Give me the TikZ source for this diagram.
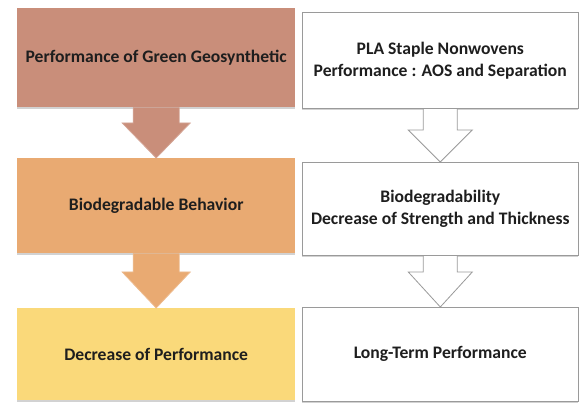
\documentclass[tikz,border=0pt]{standalone}
\usepackage{fontspec}
\setmainfont{Carlito}
\usetikzlibrary{calc,shadows}
\definecolor{cbrown}{HTML}{C98E7A}
\definecolor{corange}{HTML}{E9AA72}
\definecolor{cyellow}{HTML}{FAD97A}
\definecolor{ctext}{HTML}{1E1E1E}
\definecolor{cborder}{HTML}{9A9A9A}
\tikzset{
  x=1pt,y=1pt,
  box/.style={anchor=north west, inner sep=0pt, align=center, text=ctext,
    font=\bfseries\fontsize{17.6}{22}\selectfont,
    drop shadow={shadow xshift=0pt, shadow yshift=-2pt, opacity=0.35, fill=gray}},
  lbox/.style={box, minimum width=278, draw=none},
  rbox/.style={box, minimum width=276, fill=white, draw=cborder, line width=0.6pt},
  farrow/.style={line width=0.8pt, line join=miter},
  oarrow/.style={fill=white, draw=cborder, line width=0.8pt, line join=miter},
}
\begin{document}
\begin{tikzpicture}
\useasboundingbox (0,0) rectangle (585,403);
\fill[white] (0,0) rectangle (585,403);
% left column
\node[lbox, fill=cbrown, minimum height=99] (L1) at (17,395) {Performance of Green Geosynthetic};
\node[lbox, fill=corange, minimum height=95] (L2) at (17,245) {Biodegradable Behavior};
\node[lbox, fill=cyellow, minimum height=92] (L3) at (17,95) {Decrease of Performance};
% right column
\node[rbox, minimum height=96] (R1) at (302,391) {PLA Staple Nonwovens\\Performance : AOS and Separation};
\node[rbox, minimum height=93] (R2) at (302,241) {Biodegradability\\Decrease of Strength and Thickness};
\node[rbox, minimum height=94] (R3) at (302,96) {Long-Term Performance};
% left arrows
\filldraw[farrow, fill=cbrown, draw=cbrown!80!white]
  ($(L1.south)+(-23,0)$) -- ($(L2.north)+(-23,35)$) -- ($(L2.north)+(-34,35)$)
  -- (L2.north) -- ($(L2.north)+(34,35)$) -- ($(L2.north)+(23,35)$) -- ($(L1.south)+(23,0)$);
\filldraw[farrow, fill=corange, draw=corange!80!white]
  ($(L2.south)+(-23,0)$) -- ($(L3.north)+(-23,36)$) -- ($(L3.north)+(-34,36)$)
  -- (L3.north) -- ($(L3.north)+(34,36)$) -- ($(L3.north)+(23,36)$) -- ($(L2.south)+(23,0)$);
% right arrows
\fill[white] ($(R1.south)+(-17,-0.5)$) -- ($(R2.north)+(-17,32)$) -- ($(R2.north)+(-32,32)$)
  -- (R2.north) -- ($(R2.north)+(32,32)$) -- ($(R2.north)+(17,32)$) -- ($(R1.south)+(17,-0.5)$) -- cycle;
\draw[oarrow, fill=none]
  ($(R1.south)+(-17,0)$) -- ($(R2.north)+(-17,32)$) -- ($(R2.north)+(-32,32)$)
  -- (R2.north) -- ($(R2.north)+(32,32)$) -- ($(R2.north)+(17,32)$) -- ($(R1.south)+(17,0)$);
\fill[white] ($(R2.south)+(-17,-0.5)$) -- ($(R3.north)+(-17,35)$) -- ($(R3.north)+(-32,35)$)
  -- (R3.north) -- ($(R3.north)+(32,35)$) -- ($(R3.north)+(17,35)$) -- ($(R2.south)+(17,-0.5)$) -- cycle;
\draw[oarrow, fill=none]
  ($(R2.south)+(-17,0)$) -- ($(R3.north)+(-17,35)$) -- ($(R3.north)+(-32,35)$)
  -- (R3.north) -- ($(R3.north)+(32,35)$) -- ($(R3.north)+(17,35)$) -- ($(R2.south)+(17,0)$);
\end{tikzpicture}
\end{document}
